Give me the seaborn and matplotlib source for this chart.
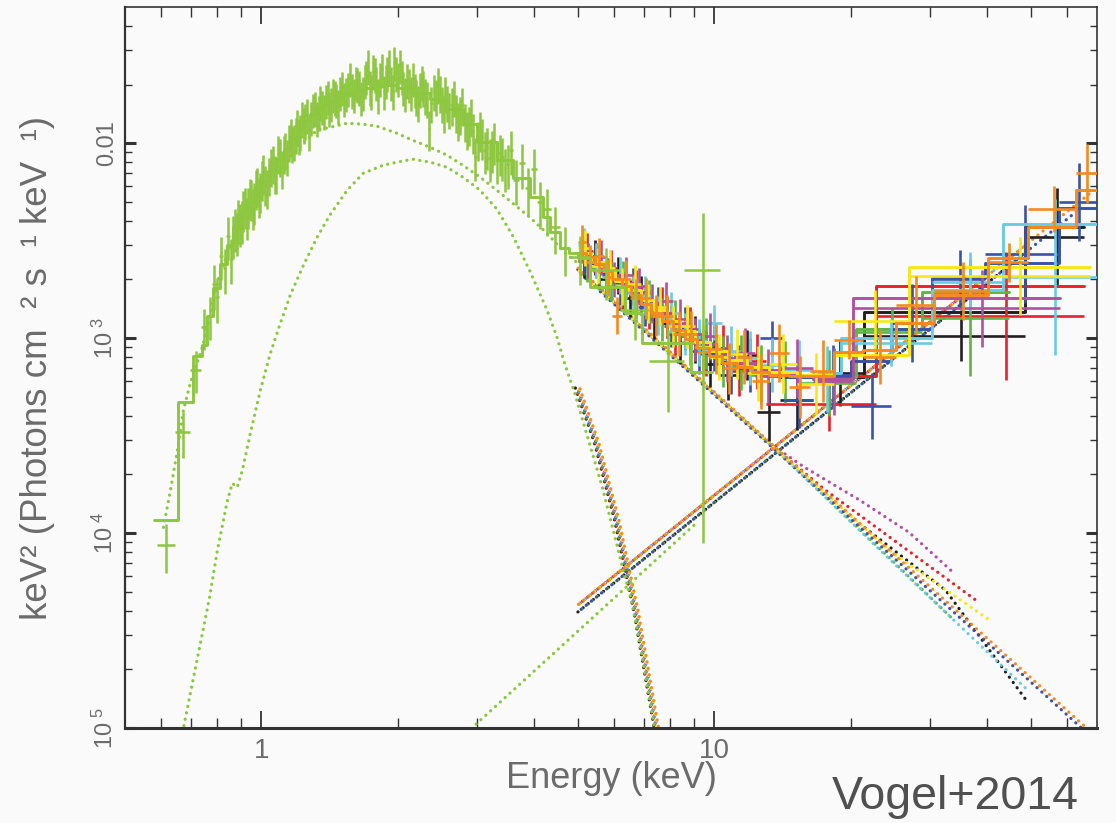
import numpy as np
import matplotlib
matplotlib.use("Agg")
import matplotlib.pyplot as plt
from matplotlib.ticker import FixedLocator, FixedFormatter, NullFormatter
from matplotlib.transforms import ScaledTranslation
import seaborn as sns

sns.set_theme(style="ticks")
plt.rcParams["font.family"] = ["Liberation Sans", "DejaVu Sans"]
plt.rcParams["mathtext.fontset"] = "custom"
plt.rcParams["mathtext.rm"] = "Liberation Sans"
plt.rcParams["mathtext.it"] = "Liberation Sans:italic"
plt.rcParams["mathtext.bf"] = "Liberation Sans:bold"

BG = "#fafafa"
TXT = "#6b6b6b"

# ---------------------------------------------------------------- XMM (yellow-green)
xmm_E = [0.615, 0.673, 0.723, 0.750, 0.770, 0.785, 0.80, 0.815, 0.83, 0.845, 0.86, 0.875,
         0.89, 0.905, 0.92, 0.935, 0.95, 0.965, 0.98, 0.995, 1.01, 1.03, 1.05, 1.07, 1.09,
         1.11, 1.13, 1.15, 1.17, 1.19, 1.21, 1.23, 1.25, 1.275, 1.30, 1.325, 1.35, 1.375,
         1.40, 1.425, 1.45, 1.48, 1.51, 1.54, 1.57, 1.60, 1.63, 1.66, 1.69, 1.72, 1.75,
         1.78, 1.81, 1.845, 1.88, 1.915, 1.95, 1.985, 2.02, 2.06, 2.10, 2.14, 2.18, 2.22,
         2.26, 2.30, 2.35, 2.40, 2.45, 2.50, 2.55, 2.60, 2.66, 2.72, 2.78, 2.84, 2.90, 2.97,
         3.04, 3.11, 3.19, 3.27, 3.36, 3.45, 3.55, 3.65, 3.76, 3.88, 4.0, 4.12, 4.26, 4.45,
         4.67, 4.9, 5.8, 6.6, 7.84, 9.4]
xmm_F = [8.7e-5, 3.3e-4, 6.9e-4, 1.14e-3, 1.3e-3, 1.89e-3, 1.62e-3, 2.64e-3, 2.28e-3, 3.36e-3,
         2.55e-3, 3.7e-3, 4.07e-3, 4.05e-3, 4.75e-3, 4.75e-3, 5.25e-3, 5.02e-3, 6.1e-3, 5.7e-3,
         7.04e-3, 5.95e-3, 7.67e-3, 7.08e-3, 8.96e-3, 7.47e-3, 9.3e-3, 1.02e-2, 9.98e-3, 1.11e-2,
         1.10e-2, 1.34e-2, 1.32e-2, 1.16e-2, 1.49e-2, 1.35e-2, 1.63e-2, 1.47e-2, 1.74e-2, 1.60e-2,
         1.73e-2, 1.56e-2, 1.94e-2, 1.80e-2, 2.16e-2, 1.78e-2, 2.02e-2, 1.72e-2, 2.11e-2, 2.50e-2,
         1.86e-2, 2.27e-2, 1.77e-2, 2.40e-2, 2.10e-2, 2.50e-2, 1.86e-2, 2.30e-2, 2.51e-2, 1.93e-2,
         2.12e-2, 1.83e-2, 1.89e-2, 1.62e-2, 2.07e-2, 1.76e-2, 1.19e-2, 1.85e-2, 2.02e-2, 1.60e-2,
         1.80e-2, 1.50e-2, 1.73e-2, 1.32e-2, 1.58e-2, 1.19e-2, 1.38e-2, 8.5e-3, 1.17e-2, 9.2e-3,
         8.4e-3, 1.02e-2, 8.9e-3, 7.5e-3, 9.2e-3, 6.5e-3, 7.9e-3, 5.9e-3, 7.4e-3, 5.0e-3,
         4.6e-3, 3.7e-3, 2.9e-3, 2.6e-3, 2.23e-3, 1.39e-3, 7.6e-4, 2.23e-3]
xmm_err = [0.28, 0.26, 0.24, 0.24, 0.25, 0.26, 0.26, 0.25, 0.26, 0.25, 0.26, 0.25, 0.25, 0.25,
           0.24, 0.24, 0.24, 0.24, 0.23, 0.23, 0.23, 0.23, 0.22, 0.22, 0.22, 0.22, 0.22, 0.21,
           0.21, 0.21, 0.21, 0.21, 0.21, 0.21, 0.2, 0.2, 0.2, 0.2, 0.2, 0.2, 0.2, 0.2, 0.2,
           0.2, 0.2, 0.2, 0.2, 0.2, 0.2, 0.2, 0.2, 0.2, 0.2, 0.2, 0.2, 0.2, 0.2, 0.2, 0.2, 0.2,
           0.2, 0.2, 0.2, 0.21, 0.2, 0.21, 0.23, 0.21, 0.21, 0.21, 0.21, 0.21, 0.21, 0.22, 0.22,
           0.22, 0.22, 0.25, 0.23, 0.24, 0.25, 0.24, 0.24, 0.25, 0.25, 0.26, 0.26, 0.27, 0.26,
           0.27, 0.27, 0.27, 0.28, 0.28, 0.3, 0.3, 0.45, 0.96]
# additional XMM channels interleaved with the ones above
xmm_E_b = [0.8675, 0.8825, 0.8975, 0.9125, 0.9275, 0.9425, 0.9575, 0.9725, 0.9875, 1.0025,
           1.02, 1.04, 1.06, 1.08, 1.10, 1.12, 1.14, 1.16, 1.18, 1.20, 1.22, 1.24, 1.2625,
           1.2875, 1.3125, 1.3375, 1.3625, 1.3875, 1.4125, 1.4375, 1.465, 1.495, 1.525, 1.555,
           1.585, 1.615, 1.645, 1.675, 1.705, 1.735, 1.765, 1.795, 1.8275, 1.8625, 1.8975,
           1.9325, 1.9675, 2.0, 2.04, 2.08, 2.12, 2.16, 2.20, 2.24, 2.28, 2.325, 2.375, 2.425,
           2.475, 2.525, 2.575, 2.63, 2.69, 2.75, 2.81, 2.87, 2.935, 3.005, 3.075, 3.15, 3.23,
           3.315, 3.405, 3.50]
xmm_F_b = [3.4e-3, 3.5e-3, 3.9e-3, 4.6e-3, 4.2e-3, 5.3e-3, 4.7e-3, 5.9e-3, 5.4e-3, 6.6e-3,
           6.2e-3, 6.9e-3, 7.9e-3, 7.0e-3, 8.6e-3, 8.9e-3, 8.6e-3, 1.1e-2, 1.03e-2, 1.22e-2,
           1.15e-2, 1.25e-2, 1.40e-2, 1.36e-2, 1.52e-2, 1.45e-2, 1.55e-2, 1.66e-2, 1.52e-2,
           1.78e-2, 1.68e-2, 1.82e-2, 1.70e-2, 1.92e-2, 1.88e-2, 2.05e-2, 1.95e-2, 1.83e-2,
           2.2e-2, 1.95e-2, 2.35e-2, 2.05e-2, 2.15e-2, 1.85e-2, 2.3e-2, 2.05e-2, 2.6e-2, 2.15e-2,
           2.2e-2, 1.8e-2, 2.0e-2, 2.15e-2, 1.75e-2, 1.9e-2, 1.95e-2, 1.7e-2, 1.6e-2, 1.75e-2,
           1.82e-2, 1.45e-2, 1.62e-2, 1.58e-2, 1.45e-2, 1.42e-2, 1.30e-2, 1.25e-2, 1.15e-2,
           1.05e-2, 1.08e-2, 9.6e-3, 9.3e-3, 8.2e-3, 8.5e-3, 7.8e-3]
xmm_err_b = [0.25, 0.25, 0.25, 0.24, 0.24, 0.24, 0.24, 0.23, 0.23, 0.23, 0.23, 0.22, 0.22,
             0.22, 0.22, 0.22, 0.21, 0.21, 0.21, 0.21, 0.21, 0.21, 0.2, 0.2, 0.2, 0.2, 0.2,
             0.2, 0.2, 0.2, 0.2, 0.2, 0.2, 0.2, 0.2, 0.2, 0.2, 0.2, 0.2, 0.2, 0.2, 0.2, 0.2,
             0.2, 0.2, 0.2, 0.2, 0.2, 0.2, 0.2, 0.2, 0.2, 0.21, 0.2, 0.21, 0.21, 0.21, 0.21,
             0.21, 0.22, 0.21, 0.22, 0.22, 0.22, 0.22, 0.23, 0.23, 0.23, 0.24, 0.24, 0.24,
             0.25, 0.25, 0.25]
xmm_model_edges = [0.578, 0.653, 0.705, 0.741, 0.760, 0.784, 0.812, 0.838, 0.866, 0.899, 0.93,
                   0.965, 1.0, 1.04, 1.084, 1.12, 1.158, 1.2, 1.237, 1.28, 1.328, 1.37, 1.419,
                   1.47, 1.516, 1.6, 1.678, 1.76, 1.856, 1.994, 2.15, 2.356, 2.55, 2.786, 3.0,
                   3.31, 3.6, 3.91, 4.18, 4.33, 4.56, 4.79, 4.99, 5.31, 6.34, 6.91, 8.89, 9.9]
xmm_model = [1.17e-4, 4.7e-4, 8.1e-4, 9.2e-4, 1.3e-3, 1.8e-3, 2.4e-3, 3.0e-3, 3.7e-3, 4.4e-3,
             5.0e-3, 5.7e-3, 6.4e-3, 7.3e-3, 8.3e-3, 9.3e-3, 1.05e-2, 1.2e-2, 1.32e-2, 1.42e-2,
             1.51e-2, 1.58e-2, 1.65e-2, 1.73e-2, 1.80e-2, 1.87e-2, 1.92e-2, 1.97e-2, 2.0e-2,
             1.93e-2, 1.80e-2, 1.68e-2, 1.50e-2, 1.25e-2, 1.02e-2, 8.2e-3, 6.6e-3, 5.3e-3,
             4.2e-3, 3.5e-3, 2.9e-3, 2.73e-3, 2.57e-3, 1.83e-3, 1.34e-3, 9.4e-4, 6.7e-4]
xmm_bb_E = [0.66, 0.673, 0.768, 0.800, 0.842, 0.863, 0.885, 0.908, 0.946, 0.995, 1.047, 1.101,
            1.158, 1.237, 1.328, 1.419, 1.547, 1.678, 1.856, 1.994, 2.16, 2.356, 2.57, 2.786,
            3.04, 3.31, 3.59, 3.91, 4.27, 4.49, 4.67, 4.92, 5.12, 5.38, 5.66, 5.96, 6.27, 6.56,
            6.83, 7.38, 7.7]
xmm_bb_F = [7e-6, 1.0e-5, 4.64e-5, 8.19e-5, 1.48e-4, 1.80e-4, 1.72e-4, 2.10e-4, 3.26e-4, 5.41e-4,
            8.37e-4, 1.19e-3, 1.66e-3, 2.35e-3, 3.3e-3, 4.3e-3, 5.74e-3, 7.01e-3, 7.71e-3, 8.0e-3,
            8.28e-3, 8.0e-3, 7.53e-3, 6.70e-3, 5.74e-3, 4.6e-3, 3.35e-3, 2.23e-3, 1.4e-3, 1.02e-3,
            7.45e-4, 5.23e-4, 3.80e-4, 2.57e-4, 1.72e-4, 1.07e-4, 6.70e-5, 4.53e-5, 2.83e-5,
            1.0e-5, 6e-6]
xmm_soft_E = [0.608, 0.630, 0.653, 0.673, 0.697, 0.741, 0.812, 0.899, 0.995, 1.101, 1.219, 1.328,
              1.419, 1.547, 1.678, 1.80, 1.994, 2.16, 2.356, 2.57, 2.786, 3.04, 3.31, 3.59, 3.91,
              4.27, 4.62, 4.97, 5.31]
xmm_soft_F = [1.07e-4, 1.66e-4, 2.67e-4, 4.27e-4, 5.88e-4, 9.0e-4, 2.2e-3, 3.9e-3, 5.6e-3, 7.3e-3,
              9.8e-3, 1.166e-2, 1.208e-2, 1.267e-2, 1.252e-2, 1.223e-2, 1.125e-2, 1.035e-2,
              9.54e-3, 8.68e-3, 7.71e-3, 6.70e-3, 5.74e-3, 4.92e-3, 4.18e-3, 3.46e-3, 2.82e-3,
              2.45e-3, 2.1e-3]
xmm_hard_E = [2.70, 9.03]
xmm_hard_F = [8.5e-6, 1.10e-4]

# ---------------------------------------------------------------- NuSTAR modules
nustar_bb_E = [4.99, 5.50, 6.09, 6.73, 7.45, 7.8]
nustar_bb_F = [5.55e-4, 2.9e-4, 1.17e-4, 3.89e-5, 1.0e-5, 6.0e-6]

black_edges = [5.0, 5.3, 5.6, 5.95, 6.3, 6.7, 7.1, 7.6, 8.1, 8.7, 9.4, 10.2, 11.2, 12.4, 14.0, 16.5, 21.4, 48.6, 65.4]
black_model = [2.7e-3, 2.45e-3, 2.17e-3, 1.95e-3, 1.75e-3, 1.55e-3, 1.37e-3, 1.2e-3, 1.07e-3, 9.4e-4, 8.3e-4, 7.5e-4, 6.9e-4, 6.5e-4, 6.3e-4, 6.3e-4, 1.36e-3, 3.71e-3]
black_flux = [2.5e-3, 2.6e-3, 2.0e-3, 2.1e-3, 1.6e-3, 1.65e-3, 1.25e-3, 1.28e-3, 9.5e-4, 9.8e-4, 7.4e-4, 6.5e-4, 8.2e-4, 4.2e-4, 4.8e-4, 6.6e-4, 1.03e-3, 3.3e-3]
black_dex = [0.09, 0.09, 0.09, 0.095, 0.095, 0.1, 0.1, 0.105, 0.11, 0.12, 0.12, 0.13, 0.13, 0.15, 0.15, 0.17, 0.13, 0.25]
black_soft_E = [5.0, 13.2, 20.9, 32.4, 49.4]
black_soft_F = [2.25e-3, 2.9e-4, 1.12e-4, 5.1e-5, 1.34e-5]
black_hard_E = [5.0, 49.0]
black_hard_F = [3.94e-5, 2.79e-3]

red_edges = [5.05, 5.4, 5.75, 6.1, 6.5, 6.95, 7.4, 7.9, 8.5, 9.2, 10.0, 10.9, 11.8, 13.0, 22.8, 65.4]
red_model = [2.6e-3, 2.3e-3, 2.08e-3, 1.88e-3, 1.68e-3, 1.5e-3, 1.33e-3, 1.17e-3, 1.03e-3, 9.1e-4, 8.1e-4, 7.3e-4, 6.9e-4, 6.4e-4, 1.85e-3]
red_flux = [2.8e-3, 2.2e-3, 2.3e-3, 1.75e-3, 1.8e-3, 1.4e-3, 1.45e-3, 1.05e-3, 1.12e-3, 8.4e-4, 8.9e-4, 6.8e-4, 7.6e-4, 4.6e-4, 1.3e-3]
red_dex = [0.09, 0.09, 0.09, 0.095, 0.095, 0.1, 0.1, 0.105, 0.11, 0.12, 0.12, 0.13, 0.14, 0.14, 0.33]
red_soft_E = [5.0, 13.2, 17.6, 37.8]
red_soft_F = [2.25e-3, 2.9e-4, 1.66e-4, 4.53e-5]
red_hard_E = [5.0, 38.0]
red_hard_F = [4.28e-5, 1.89e-3]

green_edges = [5.05, 5.4, 5.75, 6.1, 6.5, 6.95, 7.4, 7.9, 8.5, 9.2, 10.0, 10.9, 12.0, 13.4, 15.3, 20.6, 28.7, 44.7]
green_model = [2.6e-3, 2.3e-3, 2.08e-3, 1.88e-3, 1.68e-3, 1.5e-3, 1.33e-3, 1.17e-3, 1.03e-3, 9.1e-4, 8.1e-4, 7.3e-4, 6.9e-4, 6.4e-4, 6.3e-4, 1.12e-3, 1.73e-3]
green_flux = [2.45e-3, 2.4e-3, 1.95e-3, 1.95e-3, 1.6e-3, 1.55e-3, 1.25e-3, 1.2e-3, 9.6e-4, 9.4e-4, 7.6e-4, 7.5e-4, 6.5e-4, 6.7e-4, 5.9e-4, 1.08e-3, 1.27e-3]
green_dex = [0.1, 0.1, 0.1, 0.105, 0.105, 0.11, 0.11, 0.115, 0.12, 0.13, 0.13, 0.14, 0.15, 0.16, 0.17, 0.12, 0.3]
green_soft_E = [5.0, 13.2, 24.6, 33.8]
green_soft_F = [2.25e-3, 2.9e-4, 7.3e-5, 3.58e-5]
green_hard_E = [5.0, 34.0]
green_hard_F = [3.94e-5, 1.41e-3]

blue_edges = [5.0, 5.3, 5.65, 6.0, 6.4, 6.8, 7.25, 7.75, 8.3, 8.9, 9.6, 10.4, 11.4, 12.6, 14.2, 16.5, 20.0, 24.5, 30.2, 39.7, 57.6, 70.0]
blue_model = [2.7e-3, 2.42e-3, 2.17e-3, 1.95e-3, 1.75e-3, 1.56e-3, 1.39e-3, 1.23e-3, 1.08e-3, 9.5e-4, 8.4e-4, 7.6e-4, 7.0e-4, 6.6e-4, 6.3e-4, 6.5e-4, 7.6e-4, 1.12e-3, 2.03e-3, 2.42e-3, 4.64e-3]
blue_flux = [2.6e-3, 2.5e-3, 2.1e-3, 1.85e-3, 1.85e-3, 1.45e-3, 1.45e-3, 1.15e-3, 1.12e-3, 8.6e-4, 8.9e-4, 7.0e-4, 7.3e-4, 1.0e-3, 4.8e-4, 6.4e-4, 4.5e-4, 1.2e-3, 2.0e-3, 2.7e-3, 5.0e-3]
blue_dex = [0.09, 0.09, 0.09, 0.095, 0.095, 0.1, 0.1, 0.105, 0.11, 0.12, 0.12, 0.13, 0.14, 0.09, 0.14, 0.16, 0.17, 0.2, 0.15, 0.25, 0.2]
blue_soft_E = [5.0, 13.2, 68.0]
blue_soft_F = [2.2e-3, 2.85e-4, 9.0e-6]
blue_hard_E = [5.0, 64.0]
blue_hard_F = [3.94e-5, 4.59e-3]

cyan_edges = [5.0, 5.3, 5.65, 6.0, 6.4, 6.8, 7.25, 7.75, 8.3, 8.9, 9.6, 10.4, 11.4, 12.6, 14.2, 16.5, 19.0, 30.2, 43.3, 70.0]
cyan_model = [2.75e-3, 2.45e-3, 2.2e-3, 1.98e-3, 1.78e-3, 1.58e-3, 1.41e-3, 1.25e-3, 1.1e-3, 9.7e-4, 8.6e-4, 7.8e-4, 7.2e-4, 6.8e-4, 6.5e-4, 6.6e-4, 1.0e-3, 1.76e-3, 3.85e-3]
cyan_flux = [3.0e-3, 2.5e-3, 2.05e-3, 2.1e-3, 1.7e-3, 1.65e-3, 1.3e-3, 1.35e-3, 1.05e-3, 9.5e-4, 1.2e-3, 8.6e-4, 7.9e-4, 7.3e-4, 6.9e-4, 6.2e-4, 9.5e-4, 1.95e-3, 2.05e-3]
cyan_dex = [0.09, 0.09, 0.09, 0.095, 0.095, 0.1, 0.1, 0.105, 0.11, 0.12, 0.09, 0.13, 0.14, 0.14, 0.15, 0.17, 0.12, 0.15, 0.4]
cyan_soft_E = [5.0, 13.2, 24.6, 48.7]
cyan_soft_F = [2.25e-3, 2.9e-4, 7.2e-5, 1.6e-5]
cyan_hard_E = [5.0, 49.0]
cyan_hard_F = [4.28e-5, 3.04e-3]

magenta_edges = [5.1, 5.45, 5.8, 6.2, 6.6, 7.05, 7.55, 8.1, 8.7, 9.4, 10.2, 11.1, 12.3, 14.0, 16.5, 20.2, 58.0]
magenta_model = [2.65e-3, 2.38e-3, 2.12e-3, 1.92e-3, 1.72e-3, 1.52e-3, 1.35e-3, 1.19e-3, 1.05e-3, 9.3e-4, 8.3e-4, 7.5e-4, 6.9e-4, 6.5e-4, 6.2e-4, 1.60e-3]
magenta_flux = [2.5e-3, 2.6e-3, 2.0e-3, 2.1e-3, 1.85e-3, 1.5e-3, 1.55e-3, 1.25e-3, 9.8e-4, 1.02e-3, 7.9e-4, 8.4e-4, 6.4e-4, 7.0e-4, 6.0e-4, 1.42e-3]
magenta_dex = [0.09, 0.09, 0.09, 0.095, 0.095, 0.1, 0.1, 0.105, 0.11, 0.12, 0.12, 0.13, 0.14, 0.15, 0.17, 0.2]
magenta_soft_E = [5.0, 13.2, 15.8, 20.9, 26.9, 33.8]
magenta_soft_F = [2.25e-3, 2.9e-4, 2.18e-4, 1.48e-4, 1.01e-4, 6.24e-5]
magenta_hard_E = [5.0, 34.0]
magenta_hard_F = [4.28e-5, 1.54e-3]

yellow_edges = [5.0, 5.35, 5.7, 6.05, 6.45, 6.9, 7.35, 7.85, 8.4, 9.05, 9.8, 10.7, 11.8, 13.2, 15.2, 18.4, 26.9, 67.6]
yellow_model = [2.75e-3, 2.45e-3, 2.2e-3, 1.97e-3, 1.77e-3, 1.57e-3, 1.4e-3, 1.23e-3, 1.09e-3, 9.6e-4, 8.6e-4, 7.7e-4, 7.1e-4, 6.7e-4, 6.5e-4, 8.2e-4, 2.31e-3]
yellow_flux = [2.9e-3, 2.35e-3, 2.3e-3, 1.85e-3, 1.9e-3, 1.5e-3, 1.45e-3, 1.15e-3, 1.15e-3, 9.0e-4, 8.0e-4, 8.3e-4, 6.6e-4, 7.4e-4, 5.8e-4, 1.22e-3, 2.08e-3]
yellow_dex = [0.09, 0.09, 0.09, 0.095, 0.095, 0.1, 0.1, 0.105, 0.11, 0.12, 0.12, 0.13, 0.14, 0.15, 0.16, 0.16, 0.2]
yellow_soft_E = [5.0, 13.2, 24.6, 40.8]
yellow_soft_F = [2.25e-3, 2.9e-4, 8.0e-5, 3.54e-5]
yellow_hard_E = [5.0, 41.0]
yellow_hard_F = [4.28e-5, 2.18e-3]

orange_edges = [5.0, 5.2, 5.45, 5.7, 5.95, 6.25, 6.55, 6.9, 7.25, 7.65, 8.1, 8.6, 9.15, 9.75, 10.4, 11.2, 12.1, 13.2, 14.6, 16.3, 18.4, 21.3, 25.2, 30.5, 40.3, 49.4, 63.0, 70.0]
orange_model = [2.75e-3, 2.6e-3, 2.4e-3, 2.2e-3, 2.02e-3, 1.85e-3, 1.67e-3, 1.5e-3, 1.35e-3, 1.22e-3, 1.1e-3, 9.9e-4, 8.9e-4, 8.1e-4, 7.5e-4, 7.1e-4, 6.7e-4, 6.5e-4, 6.4e-4, 6.4e-4, 8.5e-4, 8.7e-4, 1.2e-3, 1.66e-3, 2.57e-3, 3.71e-3, 5.74e-3]
orange_flux = [3.1e-3, 2.45e-3, 2.65e-3, 2.05e-3, 1.3e-3, 2.0e-3, 1.6e-3, 1.6e-3, 1.3e-3, 1.3e-3, 1.05e-3, 1.05e-3, 8.5e-4, 8.8e-4, 7.0e-4, 8.0e-4, 6.0e-4, 8.4e-4, 5.6e-4, 6.8e-4, 9.8e-4, 8.0e-4, 1.48e-3, 1.75e-3, 2.45e-3, 4.6e-3, 7.0e-3]
orange_dex = [0.09, 0.09, 0.09, 0.095, 0.095, 0.1, 0.1, 0.105, 0.105, 0.11, 0.115, 0.12, 0.12, 0.13, 0.13, 0.14, 0.14, 0.15, 0.16, 0.16, 0.1, 0.14, 0.15, 0.15, 0.1, 0.12, 0.15]
orange_soft_E = [5.0, 13.2, 68.0]
orange_soft_F = [2.3e-3, 2.95e-4, 9.5e-6]
orange_hard_E = [5.0, 68.0]
orange_hard_F = [4.28e-5, 5.61e-3]

# tick labels
xtick_vals = [1, 10]
xtick_labels = ["1", "10"]
ytick_vals = [1e-5, 1e-4, 1e-3, 1e-2]
ytick_labels = [r"$\mathregular{10^{\ 5}}$", r"$\mathregular{10^{\ 4}}$",
                r"$\mathregular{10^{\ 3}}$", "0.01"]

modules = [
    ("black", "#231f20", black_edges, black_model, black_flux, black_dex, black_soft_E, black_soft_F, black_hard_E, black_hard_F),
    ("red", "#e9212a", red_edges, red_model, red_flux, red_dex, red_soft_E, red_soft_F, red_hard_E, red_hard_F),
    ("green", "#5fb446", green_edges, green_model, green_flux, green_dex, green_soft_E, green_soft_F, green_hard_E, green_hard_F),
    ("blue", "#3a53a4", blue_edges, blue_model, blue_flux, blue_dex, blue_soft_E, blue_soft_F, blue_hard_E, blue_hard_F),
    ("cyan", "#6ccbe2", cyan_edges, cyan_model, cyan_flux, cyan_dex, cyan_soft_E, cyan_soft_F, cyan_hard_E, cyan_hard_F),
    ("magenta", "#b1519e", magenta_edges, magenta_model, magenta_flux, magenta_dex, magenta_soft_E, magenta_soft_F, magenta_hard_E, magenta_hard_F),
    ("yellow", "#f6e816", yellow_edges, yellow_model, yellow_flux, yellow_dex, yellow_soft_E, yellow_soft_F, yellow_hard_E, yellow_hard_F),
    ("orange", "#f58a1f", orange_edges, orange_model, orange_flux, orange_dex, orange_soft_E, orange_soft_F, orange_hard_E, orange_hard_F),
]
XMM_C = "#8dc63f"

# ---------------------------------------------------------------- figure
fig = plt.figure(figsize=(11.16, 8.23), dpi=100, facecolor=BG)
ax = fig.add_axes([0.1120, 0.1154, 0.8710, 0.8761])
ax.set_facecolor(BG)
ax.set_xscale("log")
ax.set_yscale("log")
ax.set_xlim(0.5, 70)
ax.set_ylim(1e-5, 0.05)

LW_DOT = 2.3


def dotted(E, F, color, k, z=2, dx=0.0):
    tr = ax.transData + ScaledTranslation(dx / 72.0, 0, fig.dpi_scale_trans)
    ax.plot(E, F, color=color, lw=LW_DOT, linestyle=(k * 0.26, (0.05, 2.0)),
            dash_capstyle="round", zorder=z, transform=tr)


def steps(edges, levels, color, z):
    x = list(edges)
    y = list(levels) + [levels[-1]]
    sns.lineplot(x=x, y=y, ax=ax, color=color, linewidth=2.1, drawstyle="steps-post",
                 estimator=None, sort=False, zorder=z)


def crosses(lo, hi, flux, ylo, yhi, color, z, lw=1.9):
    lo = np.asarray(lo, float)
    hi = np.asarray(hi, float)
    c = 0.5 * (lo + hi)
    ax.errorbar(c, flux, xerr=[c - lo, hi - c], yerr=[ylo, yhi], fmt="none",
                ecolor=color, elinewidth=lw, capsize=0, zorder=z)


# model components (dotted)
for k, (name, col, edges, model, flux, dex, sE, sF, hE, hF) in enumerate(modules):
    dotted(nustar_bb_E, nustar_bb_F, col, k, dx=(k - 3.5) * 0.45)
    dotted(sE, sF, col, k)
    dotted(hE, hF, col, k)
dotted(xmm_bb_E, xmm_bb_F, XMM_C, 0)
dotted(xmm_soft_E, xmm_soft_F, XMM_C, 0)
dotted(xmm_hard_E, xmm_hard_F, XMM_C, 0)

# NuSTAR data + models
for k, (name, col, edges, model, flux, dex, sE, sF, hE, hF) in enumerate(modules):
    f = np.asarray(flux)
    d = np.asarray(dex)
    crosses(edges[:-1], edges[1:], f, f - f / 10 ** d, f * 10 ** d - f, col, 3 + k * 0.1)
    steps(edges, model, col, 3.05 + k * 0.1)

# XMM data + model (merge the two interleaved channel lists by energy)
xe = np.concatenate([xmm_E, xmm_E_b])
xf = np.concatenate([xmm_F, xmm_F_b])
xr = np.concatenate([xmm_err, xmm_err_b])
order = np.argsort(xe)
xe, xf, xr = xe[order], xf[order], xr[order]
mids = np.sqrt(xe[:-1] * xe[1:])
lo = np.concatenate([[xe[0] ** 2 / mids[0]], mids])
hi = np.concatenate([mids, [xe[-1] ** 2 / mids[-1]]])
crosses(lo, hi, xf, xf * xr, xf * xr, XMM_C, 4, lw=1.8)
steps(xmm_model_edges, xmm_model, XMM_C, 4.05)

# ---------------------------------------------------------------- axes styling
ax.xaxis.set_major_locator(FixedLocator(xtick_vals))
ax.xaxis.set_major_formatter(FixedFormatter(xtick_labels))
ax.xaxis.set_minor_locator(FixedLocator([0.6, 0.7, 0.8, 0.9, 2, 3, 4, 5, 6, 7, 8, 9,
                                         20, 30, 40, 50, 60]))
ax.xaxis.set_minor_formatter(NullFormatter())
ax.yaxis.set_major_locator(FixedLocator(ytick_vals))
ax.yaxis.set_major_formatter(FixedFormatter(ytick_labels))
ymin = [m * 10.0 ** e for e in (-5, -4, -3, -2) for m in range(2, 10) if m * 10.0 ** e < 0.05]
ax.yaxis.set_minor_locator(FixedLocator(ymin))
ax.yaxis.set_minor_formatter(NullFormatter())

ax.tick_params(which="both", direction="in", top=True, right=True, colors="#333333",
               labelcolor=TXT)
ax.tick_params(axis="x", which="major", length=12, width=1.3, labelsize=20, pad=7)
ax.tick_params(axis="x", which="minor", length=7, width=1.0)
ax.tick_params(axis="y", which="major", length=8, width=2.2, labelsize=17, pad=5,
               labelrotation=90)
ax.tick_params(axis="y", which="minor", length=5, width=1.0)
for lab in ax.get_yticklabels():
    lab.set_va("center")

for s in ("top", "right"):
    ax.spines[s].set_linewidth(1.2)
ax.spines["left"].set_linewidth(1.6)
ax.spines["bottom"].set_linewidth(2.2)
for s in ax.spines.values():
    s.set_color("#333333")

ax.set_xlabel("Energy (keV)", fontsize=26, color=TXT)
ax.xaxis.set_label_coords(0.5, -0.046)
ax.set_ylabel("keV² (Photons cm  ² s  ¹ keV  ¹)", fontsize=26.5, color=TXT)
ax.yaxis.set_label_coords(-0.072, 0.5)

fig.text(0.856, 0.032, "Vogel+2014", fontsize=33.5, color="#505050", ha="center", va="center")

fig.savefig("out.png", dpi=100, facecolor=BG)
